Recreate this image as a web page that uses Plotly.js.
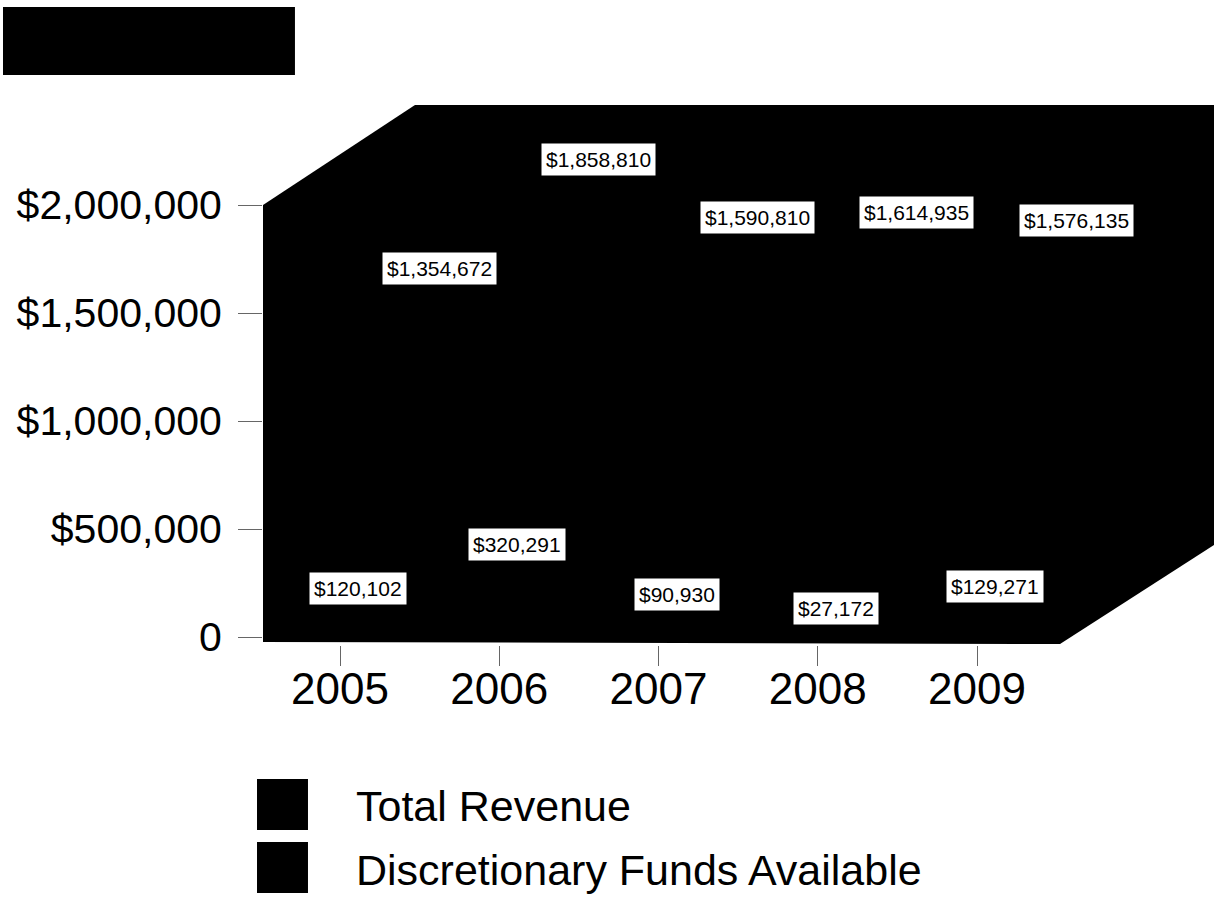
<!DOCTYPE html>
<html>
<head>
<meta charset="utf-8">
<script src="https://cdn.plot.ly/plotly-3.0.1.min.js"></script>
<style>html,body{margin:0;padding:0;background:#fff;}#chart{width:1214px;height:897px;}</style>
</head>
<body>
<div id="chart"></div>
<script>
// ---- data ----
var years = ['2005', '2006', '2007', '2008', '2009'];
var seriesNames = ['Total Revenue', 'Discretionary Funds Available'];
var totalRevenue = [1354672, 1858810, 1590810, 1614935, 1576135];
var discretionaryFunds = [120102, 320291, 90930, 27172, 129271];
var yTickVals = [0, 500000, 1000000, 1500000, 2000000];
var yTickText = ['0', '$500,000', '$1,000,000', '$1,500,000', '$2,000,000'];

function money(v) { return '$' + v.toLocaleString('en-US'); }

var FONT = 'Liberation Sans, Arial, sans-serif';

var traces = [
  { type: 'bar', name: seriesNames[0], x: years, y: totalRevenue, marker: { color: '#000' }, showlegend: false, hoverinfo: 'skip' },
  { type: 'bar', name: seriesNames[1], x: years, y: discretionaryFunds, marker: { color: '#000' }, showlegend: false, hoverinfo: 'skip' }
];

var annotations = [];
years.forEach(function (yr, i) {
  // category axes take the category index for annotation positions
  annotations.push({ x: i, y: totalRevenue[i], xref: 'x', yref: 'y', text: money(totalRevenue[i]), showarrow: false,
    xshift: 99, yshift: 76, bgcolor: '#fff', borderpad: 4, font: { family: FONT, size: 21, color: '#000' } });
  annotations.push({ x: i, y: discretionaryFunds[i], xref: 'x', yref: 'y', text: money(discretionaryFunds[i]), showarrow: false,
    xshift: 18, yshift: 23, bgcolor: '#fff', borderpad: 4, font: { family: FONT, size: 21, color: '#000' } });
});
// legend text
annotations.push({ xref: 'paper', yref: 'paper', x: 0.0957, y: -0.2981, xanchor: 'left', yanchor: 'middle', text: seriesNames[0], showarrow: false, font: { family: FONT, size: 43, color: '#000' } });
annotations.push({ xref: 'paper', yref: 'paper', x: 0.0957, y: -0.4167, xanchor: 'left', yanchor: 'middle', text: seriesNames[1], showarrow: false, font: { family: FONT, size: 43, color: '#000' } });

var shapes = [
  // 3D walls / plot area (black)
  { type: 'path', xref: 'paper', yref: 'paper', layer: 'below',
    path: 'M 0 0.00556 L 0 0.8148 L 0.1598 1 L 1 1 L 1 0.1852 L 0.8381 0.00185 Z',
    fillcolor: '#000', line: { width: 0 } },
  // title block
  { type: 'rect', xref: 'paper', yref: 'paper', x0: -0.2734, x1: 0.0336, y0: 1.0556, y1: 1.1815, fillcolor: '#000', line: { width: 0 } },
  // legend keys
  { type: 'rect', xref: 'paper', yref: 'paper', x0: -0.0063, x1: 0.0473, y0: -0.3426, y1: -0.2481, fillcolor: '#000', line: { width: 0 } },
  { type: 'rect', xref: 'paper', yref: 'paper', x0: -0.0063, x1: 0.0473, y0: -0.4593, y1: -0.3648, fillcolor: '#000', line: { width: 0 } }
];

var layout = {
  width: 1214, height: 897,
  margin: { l: 263, r: 0, t: 105, b: 252, pad: 0 },
  paper_bgcolor: '#fff', plot_bgcolor: 'rgba(0,0,0,0)',
  showlegend: false, hovermode: false,
  barmode: 'group', bargap: 0.5,
  xaxis: {
    type: 'category', range: [-0.4835, 5.488],
    showgrid: false, zeroline: false, showline: false,
    ticks: 'outside', ticklen: 20, tickcolor: '#666', tickwidth: 1,
    tickfont: { family: FONT, size: 44, color: '#000' }, ticklabelstandoff: -15
  },
  yaxis: {
    range: [-37037, 2462963],
    tickvals: yTickVals, ticktext: yTickText,
    showgrid: false, zeroline: false, showline: false,
    ticks: 'outside', ticklen: 24, tickcolor: '#666', tickwidth: 1,
    tickfont: { family: FONT, size: 41, color: '#000' }, ticklabelstandoff: 8
  },
  shapes: shapes,
  annotations: annotations
};

Plotly.newPlot('chart', traces, layout, { displayModeBar: false, staticPlot: true });
</script>
</body>
</html>
